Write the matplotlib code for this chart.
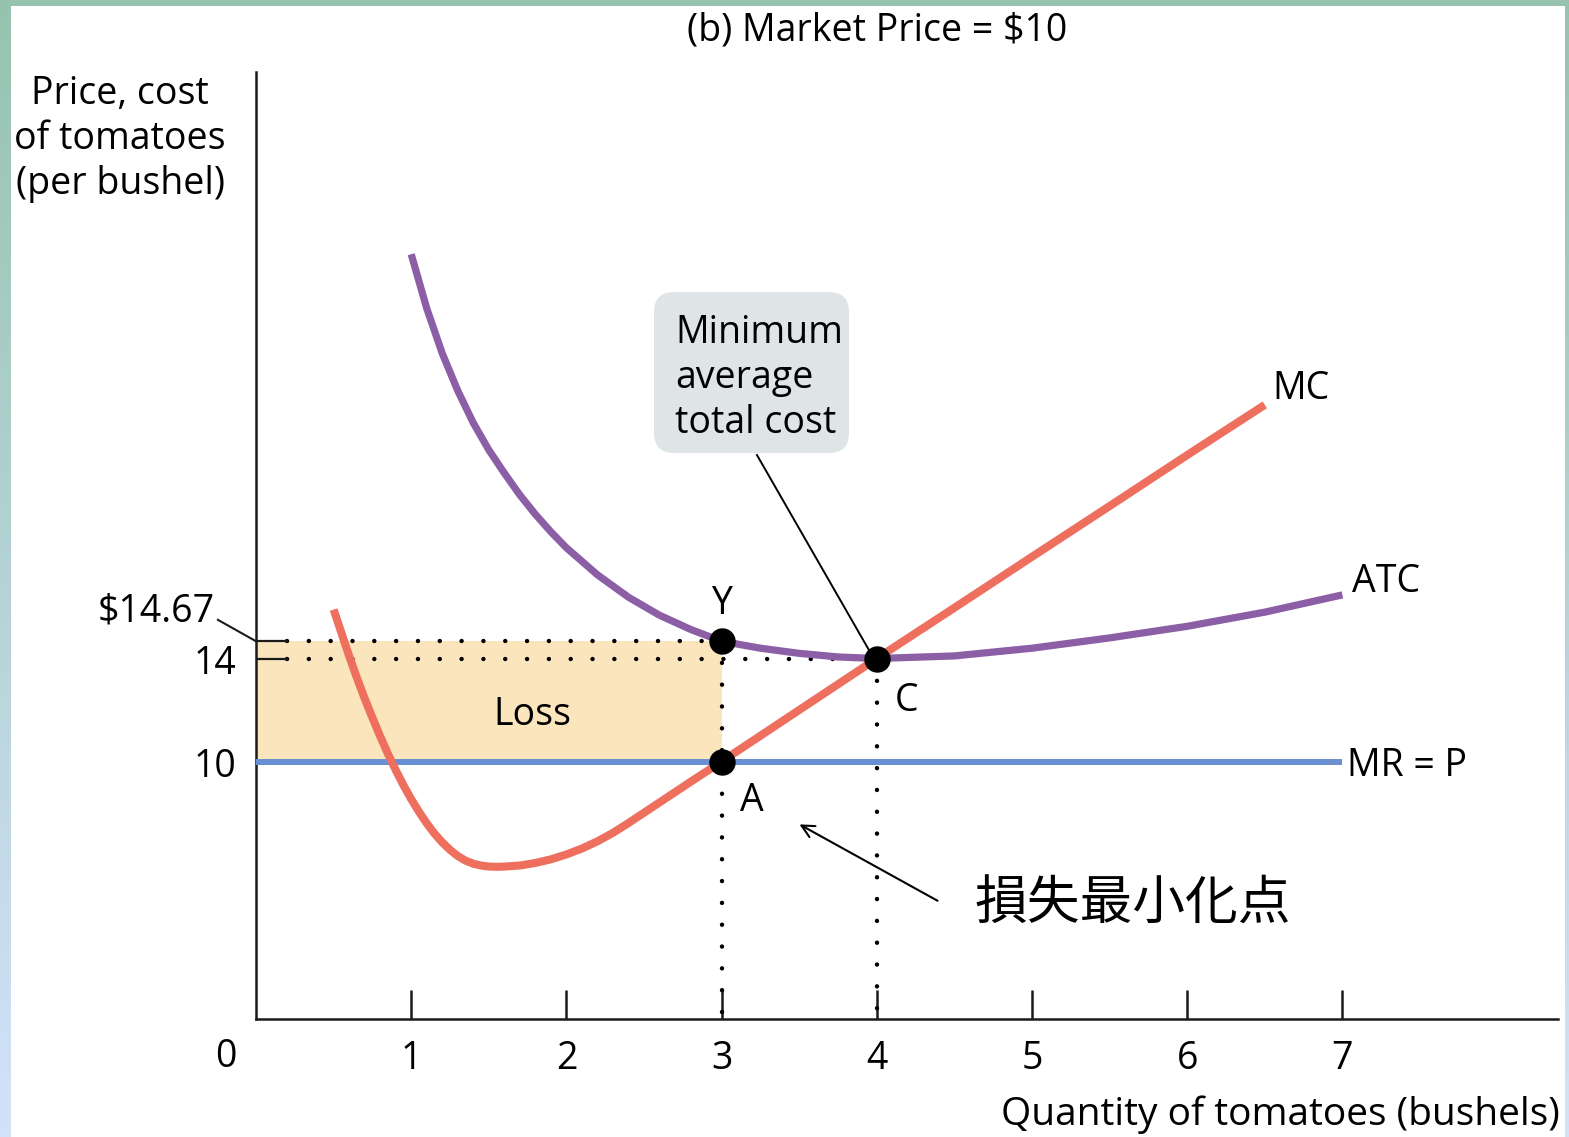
import matplotlib
matplotlib.use("Agg")
import matplotlib.pyplot as plt
import numpy as np
from matplotlib.patches import FancyBboxPatch, Rectangle
from matplotlib.colors import LinearSegmentedColormap

W, H, DPI = 1569, 1137, 100

# ---- data -------------------------------------------------------------
quantity_ticks = [1, 2, 3, 4, 5, 6, 7]
market_price = 10.0          # MR = P
q_loss_min = 3               # point A / Y
atc_at_q_loss_min = 14.67    # point Y
q_min_atc = 4                # point C
min_atc = 14.0

mc_q = [0.50, 0.55, 0.60, 0.65, 0.70, 0.75, 0.80, 0.85, 0.90, 0.95, 1.00,
        1.05, 1.10, 1.15, 1.20, 1.25, 1.30, 1.35, 1.40, 1.45, 1.50, 1.55,
        1.60, 1.70, 1.80, 1.90, 2.00, 2.10, 2.20, 2.30, 2.40, 2.60, 2.80,
        3.00, 3.50, 4.00, 4.50, 5.00, 5.50, 6.00, 6.50]
mc_cost = [15.9, 15.0, 14.1, 13.25, 12.45, 11.7, 10.98, 10.3, 9.67, 9.08,
           8.54, 8.05, 7.6, 7.2, 6.86, 6.57, 6.33, 6.15, 6.03, 5.96, 5.92,
           5.91, 5.92, 5.96, 6.06, 6.2, 6.39, 6.62, 6.9, 7.23, 7.61, 8.41,
           9.21, 10.0, 12.0, 14.0, 15.97, 17.95, 19.92, 21.9, 23.85]

atc_q = [1.0, 1.1, 1.2, 1.3, 1.4, 1.5, 1.6, 1.7, 1.8, 1.9, 2.0, 2.2, 2.4,
         2.6, 2.8, 3.0, 3.25, 3.5, 3.75, 4.0, 4.5, 5.0, 5.5, 6.0, 6.5, 7.0]
atc_cost = [29.7, 27.6, 25.85, 24.4, 23.15, 22.1, 21.2, 20.35, 19.6, 18.92,
            18.3, 17.25, 16.38, 15.68, 15.13, 14.67, 14.4, 14.2, 14.06,
            14.0, 14.1, 14.4, 14.8, 15.25, 15.8, 16.47]

# ---- styling ----------------------------------------------------------
plt.rcParams['font.family'] = ['Open Sans', 'DejaVu Sans']
MC_COLOR = '#ee6f5e'
ATC_COLOR = '#8b5ea6'
MR_COLOR = '#6a8fd2'
LOSS_COLOR = '#fae5bc'
BOX_COLOR = '#dfe5e7'
FS = 27

fig = plt.figure(figsize=(W / DPI, H / DPI), dpi=DPI)

# framed background: green-to-blue gradient strip around a white panel
bg = fig.add_axes([0, 0, 1, 1], zorder=-10)
grad = np.linspace(0, 1, 256).reshape(-1, 1)
cmap = LinearSegmentedColormap.from_list('frame', ['#96c3ae', '#d3e2fb'])
bg.imshow(grad, aspect='auto', cmap=cmap, extent=[0, 1, 0, 1], origin='upper')
bg.add_patch(Rectangle((11 / W, 0), (1565 - 11) / W, (H - 6) / H,
                       facecolor='white', edgecolor='none'))
bg.set_xlim(0, 1)
bg.set_ylim(0, 1)
bg.axis('off')

# main axes
x0_px, x1_px, y0_px, y1_px = 256, 1558, 1019, 72
px_per_q, px_per_p = 155.2, 25.75
ax = fig.add_axes([x0_px / W, (H - y0_px) / H, (x1_px - x0_px) / W,
                   (y0_px - y1_px) / H])
ax.set_xlim(0, (x1_px - x0_px) / px_per_q)
ax.set_ylim(0, (y0_px - y1_px) / px_per_p)
ax.patch.set_alpha(0)
for s in ('top', 'right'):
    ax.spines[s].set_visible(False)
for s in ('left', 'bottom'):
    ax.spines[s].set_linewidth(1.8)
    ax.spines[s].set_color('#1a1a1a')

ax.set_xticks(quantity_ticks)
ax.set_xticklabels([str(t) for t in quantity_ticks])
ax.tick_params(axis='x', direction='in', length=21, width=1.8,
               color='#1a1a1a', pad=15, labelsize=FS)
ax.set_yticks([])

# loss area
ax.fill_between([0, q_loss_min], market_price, atc_at_q_loss_min,
                color=LOSS_COLOR, lw=0, zorder=1)

# dotted guides
dot_kw = dict(color='black', lw=3.2, linestyle=(0, (0.01, 4.9)),
              dash_capstyle='round', zorder=2)
ax.plot([0.2, q_loss_min], [atc_at_q_loss_min] * 2, **dot_kw)
ax.plot([0.2, q_min_atc], [min_atc] * 2, **dot_kw)
ax.plot([q_loss_min] * 2, [atc_at_q_loss_min, 0], **dot_kw)
ax.plot([q_min_atc] * 2, [min_atc, 0], **dot_kw)
ax.plot([0, 0.2], [atc_at_q_loss_min] * 2, color='#1a1a1a', lw=1.6, zorder=2)
ax.plot([0, 0.2], [min_atc] * 2, color='#1a1a1a', lw=1.6, zorder=2)

# curves
ax.plot([0, 7], [market_price] * 2, color=MR_COLOR, lw=4.3,
        solid_capstyle='butt', zorder=3)
ax.plot(atc_q, atc_cost, color=ATC_COLOR, lw=5.2, solid_capstyle='butt',
        solid_joinstyle='round', zorder=4)
ax.plot(mc_q, mc_cost, color=MC_COLOR, lw=5.8, solid_capstyle='butt',
        solid_joinstyle='round', zorder=5)

# key points
ax.plot([q_loss_min, q_loss_min, q_min_atc],
        [atc_at_q_loss_min, market_price, min_atc],
        'o', color='black', ms=18, zorder=6)

# point and curve labels
ax.text(q_loss_min, 16.12, 'Y', fontsize=FS, ha='center', va='center')
ax.text(3.196, 8.47, 'A', fontsize=FS, ha='center', va='center')
ax.text(4.19, 12.35, 'C', fontsize=FS, ha='center', va='center')
ax.text(1.778, 11.8, 'Loss', fontsize=FS, ha='center', va='center')
ax.text(6.55, 24.47, 'MC', fontsize=FS, ha='left', va='center')
ax.text(7.06, 16.98, 'ATC', fontsize=FS, ha='left', va='center')
ax.text(7.03, 9.83, 'MR = P', fontsize=FS, ha='left', va='center')

# price axis labels
ax.text(-0.264, 15.81, '$14.67', fontsize=FS, ha='right', va='center',
        clip_on=False)
ax.plot([-0.245, 0], [15.5, atc_at_q_loss_min], color='#1a1a1a', lw=1.5,
        clip_on=False)
ax.text(-0.129, 13.79, '14', fontsize=FS, ha='right', va='center',
        clip_on=False)
ax.text(-0.129, 9.79, '10', fontsize=FS, ha='right', va='center',
        clip_on=False)
ax.text(-0.193, -1.47, '0', fontsize=FS, ha='center', va='center',
        clip_on=False)

# minimum ATC callout
box = FancyBboxPatch((6.54, (H - 453) / DPI), 1.95, 1.61,
                     boxstyle='round,pad=0,rounding_size=0.2',
                     transform=fig.dpi_scale_trans, facecolor=BOX_COLOR,
                     edgecolor='none', zorder=0)
fig.patches.append(box)
fig.text(675 / W, 1 - 378 / H, 'Minimum\naverage\ntotal cost', fontsize=FS,
         ha='left', va='center', linespacing=1.25)
ax.plot([3.228, 3.975], [21.9, 14.06], color='black', lw=1.4, zorder=5)

# loss-minimizing point arrow
ax.annotate('', xy=(3.486, 7.61), xytext=(4.407, 4.54),
            arrowprops=dict(arrowstyle='->,head_length=0.9,head_width=0.45',
                            color='black', lw=1.5))
ax.text(4.63, 4.45, '損失最小化点', fontsize=38, ha='left', va='center',
        family=['Noto Sans CJK JP', 'DejaVu Sans'])

# titles
fig.text(877 / W, 1 - 31 / H, '(b) Market Price = $10', fontsize=FS,
         ha='center', va='center')
fig.text(1560 / W, 1 - 1115 / H, 'Quantity of tomatoes (bushels)',
         fontsize=28, ha='right', va='center')
fig.text(120 / W, 1 - 139 / H, 'Price, cost\nof tomatoes\n(per bushel)',
         fontsize=FS, ha='center', va='center', linespacing=1.25)

fig.savefig('out.png', dpi=DPI)
